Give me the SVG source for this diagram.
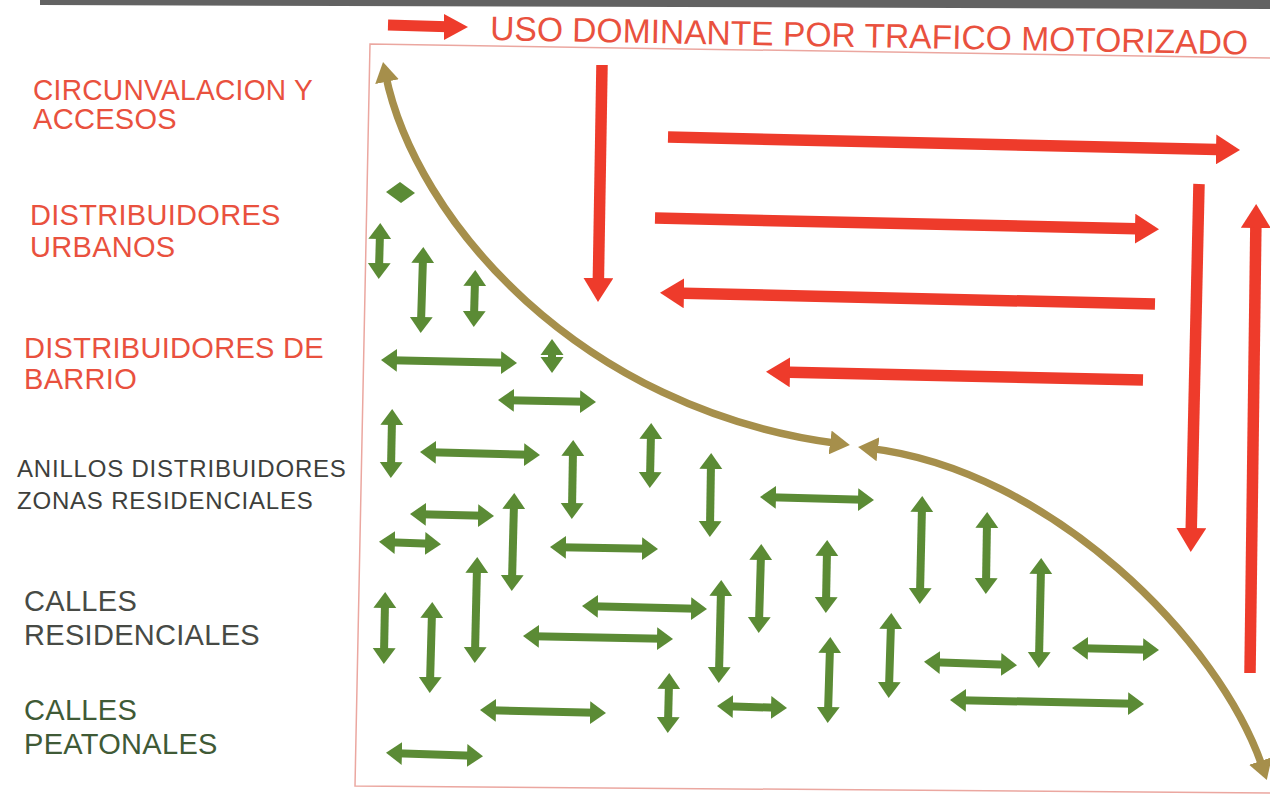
<svg xmlns="http://www.w3.org/2000/svg" width="1270" height="796" viewBox="0 0 1270 796">
<defs>
<style>
.lbl{font-family:"Liberation Sans",Arial,sans-serif;font-size:29px;letter-spacing:0.3px}
.red{fill:#e9513e}
.gry{fill:#474a45}
.grn{fill:#3f5a36}
.sm{font-size:24px;letter-spacing:0.8px;fill:#3e3f3c}
.g line{stroke:#5b8b35;stroke-width:8;marker-start:url(#gh);marker-end:url(#gh)}
.r line{stroke:#ee3b2b;stroke-width:11.5;marker-end:url(#rh)}
.b path{fill:none;stroke:#a68f4b;stroke-width:7.5;marker-start:url(#bh);marker-end:url(#bh)}
</style>
<marker id="gh" viewBox="0 -12 16 24" refX="6" refY="0" markerWidth="16" markerHeight="24" markerUnits="userSpaceOnUse" orient="auto-start-reverse"><path d="M0,-11.5 L16,0 L0,11.5 Z" fill="#5b8b35"/></marker>
<marker id="rh" viewBox="0 -15 24 30" refX="12" refY="0" markerWidth="24" markerHeight="30" markerUnits="userSpaceOnUse" orient="auto"><path d="M0,-15 L24,0 L0,15 Z" fill="#ee3b2b"/></marker>
<marker id="bh" viewBox="0 -12 20 24" refX="8" refY="0" markerWidth="20" markerHeight="24" markerUnits="userSpaceOnUse" orient="auto-start-reverse"><path d="M0,-12 L20,0 L0,12 Z" fill="#a68f4b"/></marker>
</defs>
<rect width="1270" height="796" fill="#ffffff"/>
<polygon id="band" points="40,0 1270,0 1270,9 40,5" fill="#626262"/>
<path id="frame" d="M1270,58 L370,44 L355,786 L1270,793" fill="none" stroke="#eba7a0" stroke-width="1.5"/>

<g id="header">
<line x1="388" y1="25" x2="456" y2="27" stroke="#ee3b2b" stroke-width="11"/>
<path d="M444,14 L468,27 L444,40 Z" fill="#ee3b2b"/>
<text x="490" y="40" transform="rotate(1.1 490 40)" class="lbl red" style="font-size:34px;letter-spacing:0" textLength="758" lengthAdjust="spacingAndGlyphs">USO DOMINANTE POR TRAFICO MOTORIZADO</text>
</g>

<g id="labels">
<g id="lbl-circunvalacion"><text class="lbl red" x="33" y="100" textLength="280" lengthAdjust="spacingAndGlyphs">CIRCUNVALACION Y</text><text class="lbl red" x="33" y="129">ACCESOS</text></g>
<g id="lbl-urbanos"><text class="lbl red" x="30" y="225">DISTRIBUIDORES</text><text class="lbl red" x="30" y="257">URBANOS</text></g>
<g id="lbl-barrio"><text class="lbl red" x="24" y="358">DISTRIBUIDORES DE</text><text class="lbl red" x="24" y="389">BARRIO</text></g>
<g id="lbl-anillos"><text class="lbl sm" x="17" y="477">ANILLOS DISTRIBUIDORES</text><text class="lbl sm" x="17" y="509">ZONAS RESIDENCIALES</text></g>
<g id="lbl-residenciales"><text class="lbl gry" x="24" y="611">CALLES</text><text class="lbl gry" x="24" y="645">RESIDENCIALES</text></g>
<g id="lbl-peatonales"><text class="lbl grn" x="24" y="720">CALLES</text><text class="lbl grn" x="24" y="754">PEATONALES</text></g>
</g>

<g id="connectors">
<g id="red-arrows" class="r">
<line x1="602" y1="65" x2="598.2" y2="290"/>
<line x1="668" y1="137" x2="1228" y2="149.7"/>
<line x1="655" y1="218" x2="1147" y2="229"/>
<line x1="1155" y1="304" x2="672" y2="293"/>
<line x1="1143" y1="380" x2="778" y2="372"/>
<line x1="1199" y1="184" x2="1191" y2="540"/>
<line x1="1250" y1="673" x2="1256" y2="216"/>
</g>
<g id="brown-curves" class="b">
<path d="M385.4,73.8 C415,220 580,410 838,443.5"/>
<path d="M870,448.4 C1050,470 1220,640 1263,768.6"/>
</g>
<g id="green-arrows" class="g">
<polygon points="386,192 400,182 415,193 401,203" fill="#5b8b35"/>
<line x1="380" y1="233" x2="379" y2="269"/>
<line x1="423" y1="257" x2="421" y2="323"/>
<line x1="475" y1="280" x2="474" y2="317"/>
<line x1="391" y1="360.2" x2="507" y2="362.8"/>
<line x1="552" y1="349" x2="552" y2="363"/>
<line x1="508" y1="400.2" x2="586" y2="401.8"/>
<line x1="392" y1="419" x2="391" y2="468"/>
<line x1="430" y1="452.2" x2="530" y2="454.8"/>
<line x1="573" y1="450" x2="572" y2="509"/>
<line x1="651" y1="433" x2="650" y2="478"/>
<line x1="711" y1="463" x2="710" y2="527"/>
<line x1="770" y1="497.2" x2="864" y2="499.8"/>
<line x1="420" y1="514.2" x2="484" y2="515.8"/>
<line x1="514" y1="503" x2="512" y2="581"/>
<line x1="389" y1="542.2" x2="431" y2="543.8"/>
<line x1="560" y1="547.2" x2="648" y2="548.8"/>
<line x1="922" y1="506" x2="920" y2="594"/>
<line x1="987" y1="522" x2="986" y2="584"/>
<line x1="761" y1="554" x2="759" y2="623"/>
<line x1="827" y1="550" x2="826" y2="603"/>
<line x1="1041" y1="568" x2="1039" y2="658"/>
<line x1="592" y1="606.2" x2="697" y2="608.8"/>
<line x1="533" y1="636.2" x2="663" y2="638.8"/>
<line x1="721" y1="590" x2="719" y2="673"/>
<line x1="385" y1="602" x2="384" y2="654"/>
<line x1="432" y1="612" x2="430" y2="683"/>
<line x1="477" y1="567" x2="475" y2="653"/>
<line x1="830" y1="647" x2="828" y2="713"/>
<line x1="891" y1="623" x2="889" y2="688"/>
<line x1="934" y1="662.2" x2="1007" y2="664.8"/>
<line x1="1082" y1="648.2" x2="1149" y2="649.8"/>
<line x1="960" y1="700.2" x2="1134" y2="703.8"/>
<line x1="669" y1="683" x2="668" y2="723"/>
<line x1="727" y1="706.2" x2="777" y2="707.8"/>
<line x1="490" y1="710.2" x2="596" y2="712.8"/>
<line x1="396" y1="753.2" x2="473" y2="755.8"/>
</g>
</g>
</svg>
